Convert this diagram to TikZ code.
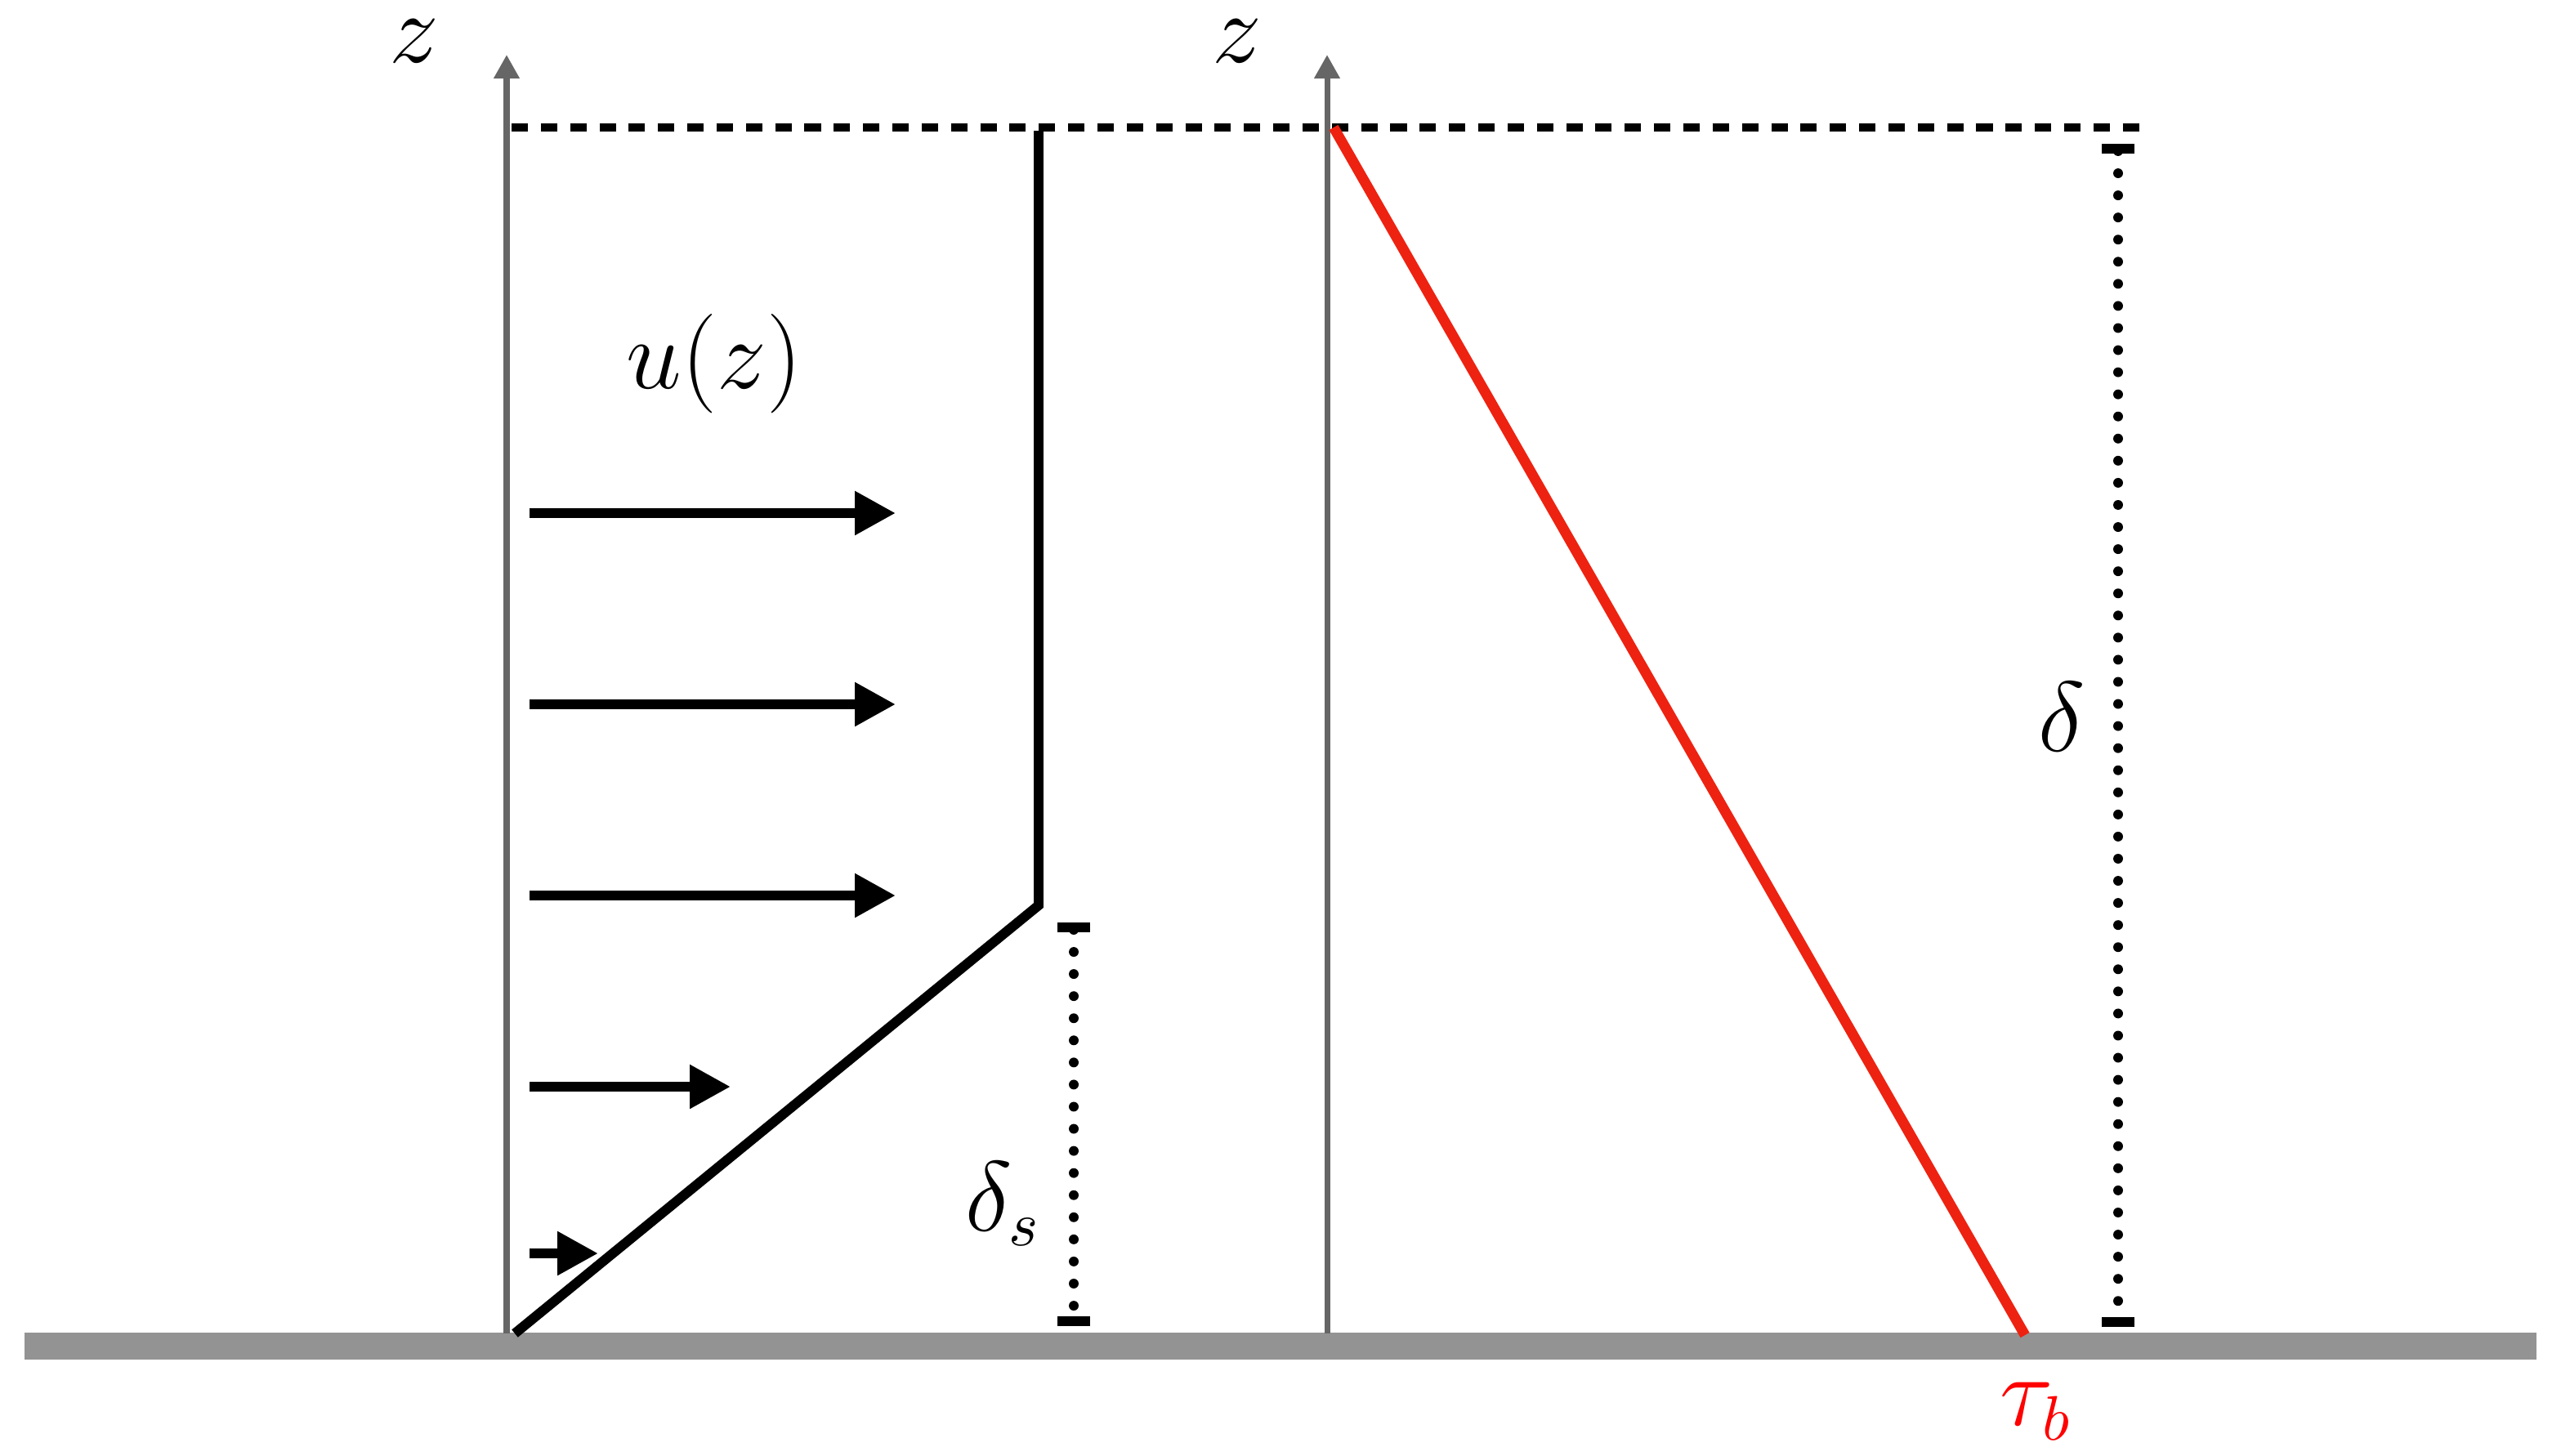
\documentclass[tikz,border=0pt]{standalone}
\usepackage{tikz}
\usetikzlibrary{arrows.meta}
\definecolor{groundgray}{RGB}{147,147,147}
\definecolor{axisgray}{RGB}{102,102,102}
\definecolor{stressred}{RGB}{238,34,17}
\tikzset{
	axisline/.style={draw=axisgray, line width=1pt, -{Triangle[length=1.45mm,width=1.5mm]}},
	flowarrow/.style={line width=1.7pt, -{Triangle[length=2.5mm,width=2.55mm]}},
	profileline/.style={line width=1.7pt, line join=miter},
	dimline/.style={line width=1.7pt, line cap=round, dash pattern=on 0pt off 3.85pt, {Bar[width=2mm]}-{Bar[width=2mm]}},
	toplevel/.style={line width=1.3pt, dash pattern=on 2.85pt off 2.25pt},
	lbl/.style={font=\fontsize{16}{19}\selectfont, inner sep=1pt}
}

\begin{document}
\begin{tikzpicture}
			%%%%% START %%%%%
			\useasboundingbox (0,-0.745) rectangle (15.67,8.16);
			
			\fill[groundgray] (0.15,-0.16) rectangle (15.52,0.005);
			
			\coordinate (leftbase) at (3.10,0);
			\coordinate (lefttop) at (3.10,7.825);
			\coordinate (rightbase) at (8.12,0);
			\coordinate (righttop) at (8.12,7.825);
			\draw[axisline] (leftbase) -- (lefttop);
			\draw[axisline] (rightbase) -- (righttop);
			\node[lbl] (zleft) at (2.535,7.906) {$z$};
			\node[lbl] (zright) at (7.57,7.906) {$z$};
			
			\coordinate (topstart) at (3.13,7.38);
			\coordinate (topend) at (13.10,7.38);
			\draw[toplevel] (topstart) -- (topend);
			
			\coordinate (profbase) at (3.15,0);
			\coordinate (profknee) at (6.355,2.62);
			\coordinate (proftop) at (6.355,7.36);
			\draw[profileline] (profbase) -- (profknee) -- (proftop);
			
			\foreach \yy/\xx [count=\i] in {5.02/5.48, 3.85/5.48, 2.68/5.48, 1.51/4.47, 0.49/3.66}
				\draw[flowarrow] (3.24,\yy) coordinate (ustart\i) -- (\xx,\yy) coordinate (uend\i);
			\node[lbl] (uz) at (4.37,5.935) {$u(z)$};
			
			\coordinate (dstop) at (6.57,2.515);
			\coordinate (dsbase) at (6.57,0.045);
			\draw[dimline] (dstop) -- (dsbase);
			\node[lbl] (dslabel) at (6.14,0.794) {$\delta_s$};
			
			\coordinate (dtop) at (12.96,7.28);
			\coordinate (dbase) at (12.96,0.04);
			\draw[dimline] (dtop) -- (dbase);
			\node[lbl] (dlabel) at (12.615,3.775) {$\delta$};
			
			\coordinate (tautop) at (8.16,7.38);
			\coordinate (taubase) at (12.39,-0.01);
			\draw[stressred, line width=1.8pt] (tautop) -- (taubase);
			\node[lbl, text=red] (taub) at (12.46,-0.475) {$\tau_b$};
			
			%%%%% END %%%%%
\end{tikzpicture}
\end{document}
